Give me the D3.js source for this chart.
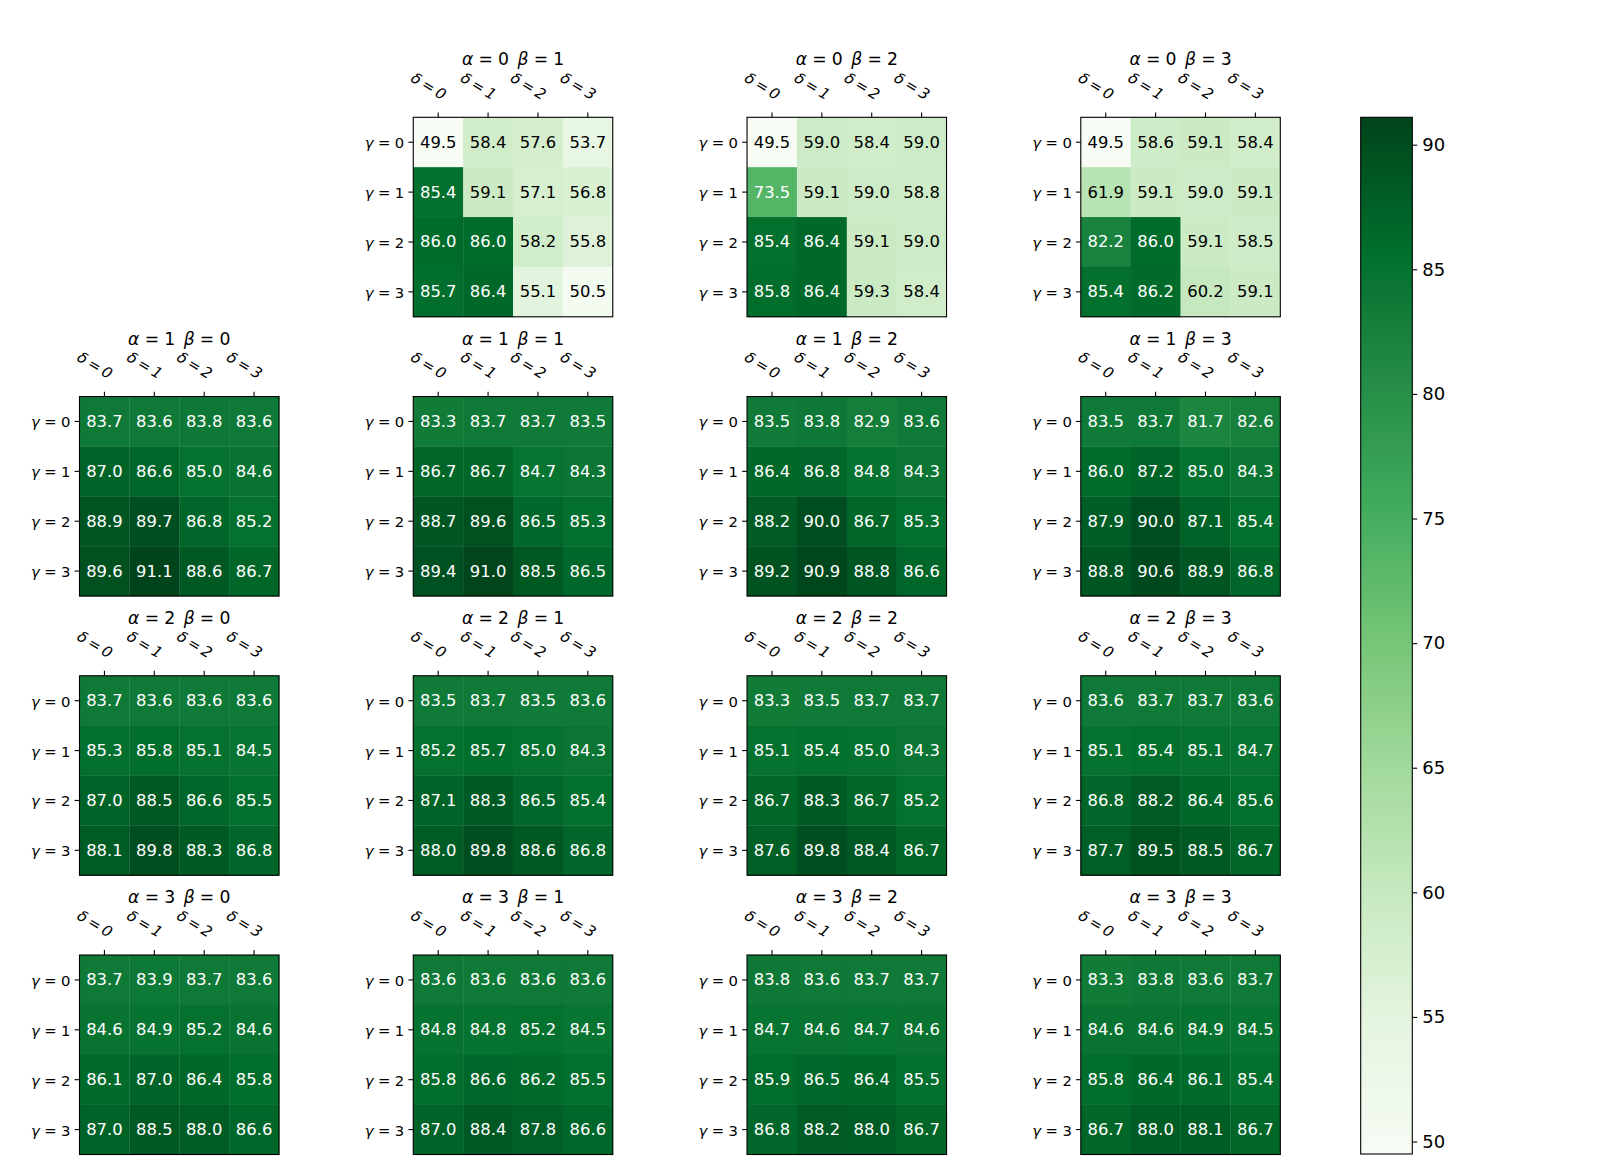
<!DOCTYPE html>
<html lang="en">

<head>
  <title></title>
  <meta charset="UTF-8">
  <script src="https://cdn.jsdelivr.net/npm/d3@7"></script>
  <style>
    body {
      margin: 0;
      background: #fff;
    }
    text {
      font-family: "DejaVu Sans", sans-serif;
    }
  </style>
</head>

<body>
  <div id="container"></div>
  <script>
    // grid labels
    const alphas = [0, 1, 2, 3];
    const betas = [0, 1, 2, 3];
    const gammas = [0, 1, 2, 3];
    const deltas = [0, 1, 2, 3];
    const cbarTicks = [50, 55, 60, 65, 70, 75, 80, 85, 90];

    // values[gamma][delta] for each (alpha, beta) panel
    const a0b1 = [[49.5, 58.4, 57.6, 53.7], [85.4, 59.1, 57.1, 56.8], [86.0, 86.0, 58.2, 55.8], [85.7, 86.4, 55.1, 50.5]];
    const a0b2 = [[49.5, 59.0, 58.4, 59.0], [73.5, 59.1, 59.0, 58.8], [85.4, 86.4, 59.1, 59.0], [85.8, 86.4, 59.3, 58.4]];
    const a0b3 = [[49.5, 58.6, 59.1, 58.4], [61.9, 59.1, 59.0, 59.1], [82.2, 86.0, 59.1, 58.5], [85.4, 86.2, 60.2, 59.1]];
    const a1b0 = [[83.7, 83.6, 83.8, 83.6], [87.0, 86.6, 85.0, 84.6], [88.9, 89.7, 86.8, 85.2], [89.6, 91.1, 88.6, 86.7]];
    const a1b1 = [[83.3, 83.7, 83.7, 83.5], [86.7, 86.7, 84.7, 84.3], [88.7, 89.6, 86.5, 85.3], [89.4, 91.0, 88.5, 86.5]];
    const a1b2 = [[83.5, 83.8, 82.9, 83.6], [86.4, 86.8, 84.8, 84.3], [88.2, 90.0, 86.7, 85.3], [89.2, 90.9, 88.8, 86.6]];
    const a1b3 = [[83.5, 83.7, 81.7, 82.6], [86.0, 87.2, 85.0, 84.3], [87.9, 90.0, 87.1, 85.4], [88.8, 90.6, 88.9, 86.8]];
    const a2b0 = [[83.7, 83.6, 83.6, 83.6], [85.3, 85.8, 85.1, 84.5], [87.0, 88.5, 86.6, 85.5], [88.1, 89.8, 88.3, 86.8]];
    const a2b1 = [[83.5, 83.7, 83.5, 83.6], [85.2, 85.7, 85.0, 84.3], [87.1, 88.3, 86.5, 85.4], [88.0, 89.8, 88.6, 86.8]];
    const a2b2 = [[83.3, 83.5, 83.7, 83.7], [85.1, 85.4, 85.0, 84.3], [86.7, 88.3, 86.7, 85.2], [87.6, 89.8, 88.4, 86.7]];
    const a2b3 = [[83.6, 83.7, 83.7, 83.6], [85.1, 85.4, 85.1, 84.7], [86.8, 88.2, 86.4, 85.6], [87.7, 89.5, 88.5, 86.7]];
    const a3b0 = [[83.7, 83.9, 83.7, 83.6], [84.6, 84.9, 85.2, 84.6], [86.1, 87.0, 86.4, 85.8], [87.0, 88.5, 88.0, 86.6]];
    const a3b1 = [[83.6, 83.6, 83.6, 83.6], [84.8, 84.8, 85.2, 84.5], [85.8, 86.6, 86.2, 85.5], [87.0, 88.4, 87.8, 86.6]];
    const a3b2 = [[83.8, 83.6, 83.7, 83.7], [84.7, 84.6, 84.7, 84.6], [85.9, 86.5, 86.4, 85.5], [86.8, 88.2, 88.0, 86.7]];
    const a3b3 = [[83.3, 83.8, 83.6, 83.7], [84.6, 84.6, 84.9, 84.5], [85.8, 86.4, 86.1, 85.4], [86.7, 88.0, 88.1, 86.7]];

    // null = empty slot (alpha 0, beta 0)
    const grid = [
      [null, a0b1, a0b2, a0b3],
      [a1b0, a1b1, a1b2, a1b3],
      [a2b0, a2b1, a2b2, a2b3],
      [a3b0, a3b1, a3b2, a3b3]
    ];

    // matplotlib "Greens"
    const greens = ['#f7fcf5', '#e5f5e0', '#c7e9c0', '#a1d99b', '#74c476', '#41ab5d', '#238b45', '#006d2c', '#00441b'];

    const width = 1600;
    const height = 1166;
    const boxSize = 199.5;

    const allVals = grid.flat().filter(d => d).flat(2);
    const [vmin, vmax] = d3.extent(allVals);

    const color = d3.scaleLinear()
      .domain(greens.map((c, i) => vmin + (vmax - vmin) * i / (greens.length - 1)))
      .range(greens)
      .interpolate(d3.interpolateRgb);

    const panelX = d3.scaleLinear().domain([0, 3]).range([79.5, 1080.8]);
    const panelY = d3.scaleLinear().domain([0, 3]).range([117.3, 955]);

    const svg = d3.select('#container')
      .append('svg')
      .attr('width', width)
      .attr('height', height);

    const cellX = d3.scaleBand().domain(deltas).range([0, boxSize]);
    const cellY = d3.scaleBand().domain(gammas).range([0, boxSize]);

    // mathtext-like "sym = val" pieces, gap in em around "=" and between pieces
    function mathLabel(sel, parts, gap, between, italicVal) {
      parts.forEach((p, i) => {
        sel.append('tspan')
          .attr('dx', i > 0 ? between + 'em' : null)
          .attr('font-style', 'italic')
          .text(p[0]);
        sel.append('tspan').attr('dx', gap + 'em').text('=');
        sel.append('tspan')
          .attr('dx', gap + 'em')
          .attr('font-style', italicVal ? 'italic' : null)
          .text(p[1]);
      });
    }

    alphas.forEach((a, r) => {
      betas.forEach((b, c) => {
        const vals = grid[r][c];
        if (!vals) return;
        const g = svg.append('g')
          .attr('transform', `translate(${panelX(c)},${panelY(r)})`);

        // cells
        vals.forEach((row, gi) => {
          row.forEach((v, di) => {
            g.append('rect')
              .attr('x', cellX(deltas[di]))
              .attr('y', cellY(gammas[gi]))
              .attr('width', cellX.bandwidth() + 0.3)
              .attr('height', cellY.bandwidth() + 0.3)
              .attr('fill', color(v));
            g.append('text')
              .attr('x', cellX(deltas[di]) + cellX.bandwidth() / 2)
              .attr('y', cellY(gammas[gi]) + cellY.bandwidth() / 2)
              .attr('text-anchor', 'middle')
              .attr('dominant-baseline', 'central')
              .attr('font-size', 16.4)
              .attr('fill', v > (vmin + vmax) / 2 ? '#fff' : '#000')
              .text(v.toFixed(1));
          });
        });

        // frame
        g.append('rect')
          .attr('width', boxSize)
          .attr('height', boxSize)
          .attr('fill', 'none')
          .attr('stroke', '#000')
          .attr('stroke-width', 1.1);

        // top ticks (delta)
        deltas.forEach(d => {
          const tx = cellX(d) + cellX.bandwidth() / 2;
          g.append('line')
            .attr('x1', tx).attr('x2', tx)
            .attr('y1', 0).attr('y2', -4.9)
            .attr('stroke', '#000').attr('stroke-width', 1.1);
          const t = g.append('text')
            .attr('transform', `translate(${tx + 4},${-17}) rotate(31)`)
            .attr('text-anchor', 'end')
            .attr('font-size', 15);
          mathLabel(t, [['\u03b4', d]], 0.22, 0, true);
        });

        // left ticks (gamma)
        gammas.forEach(gm => {
          const ty = cellY(gm) + cellY.bandwidth() / 2;
          g.append('line')
            .attr('x1', 0).attr('x2', -4.9)
            .attr('y1', ty).attr('y2', ty)
            .attr('stroke', '#000').attr('stroke-width', 1.1);
          const t = g.append('text')
            .attr('x', -9)
            .attr('y', ty)
            .attr('text-anchor', 'end')
            .attr('dominant-baseline', 'central')
            .attr('font-size', 14.8);
          mathLabel(t, [['\u03b3', gm]], 0.3, 0, false);
        });

        // title
        const title = g.append('text')
          .attr('x', boxSize / 2)
          .attr('y', -52)
          .attr('text-anchor', 'middle')
          .attr('font-size', 17.2);
        mathLabel(title, [['\u03b1', a], ['\u03b2', b]], 0.3, 0.5, false);
      });
    });

    // colorbar
    const cb = { x: 1360.7, y: 117.3, w: 51.6, h: 1036.7 };
    const defs = svg.append('defs');
    const grad = defs.append('linearGradient')
      .attr('id', 'cbar')
      .attr('x1', 0).attr('y1', 1).attr('x2', 0).attr('y2', 0);
    greens.forEach((c, i) => {
      grad.append('stop')
        .attr('offset', i / (greens.length - 1))
        .attr('stop-color', c);
    });
    const cbScale = d3.scaleLinear().domain([vmin, vmax]).range([cb.y + cb.h, cb.y]);
    svg.append('rect')
      .attr('x', cb.x).attr('y', cb.y)
      .attr('width', cb.w).attr('height', cb.h)
      .attr('fill', 'url(#cbar)')
      .attr('stroke', '#000')
      .attr('stroke-width', 1.1);

    const cbAxis = d3.axisRight(cbScale)
      .tickValues(cbarTicks)
      .tickSize(4.9)
      .tickPadding(5)
      .tickFormat(d3.format('d'));
    const axG = svg.append('g')
      .attr('transform', `translate(${cb.x + cb.w},0)`)
      .call(cbAxis);
    axG.select('.domain').remove();
    axG.selectAll('.tick line').attr('stroke-width', 1.1);
    axG.selectAll('.tick text')
      .attr('font-size', 18)
      .attr('fill', '#000');
  </script>
</body>

</html>
